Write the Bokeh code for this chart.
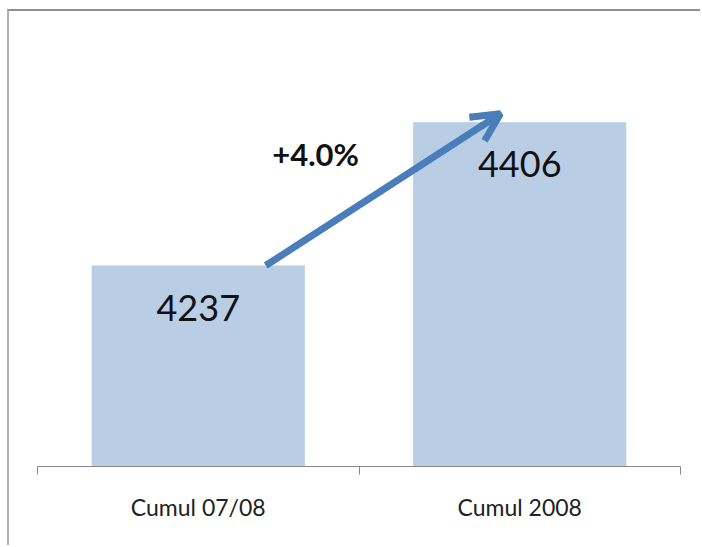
from bokeh.plotting import figure
from bokeh.models import (Range1d, LinearAxis, FixedTicker, Arrow, OpenHead,
                          Label, ColumnDataSource)
from bokeh.core.properties import value
from bokeh.embed import file_html
from bokeh.resources import INLINE

# ---- data ----
categories = ["Cumul 07/08", "Cumul 2008"]
values = [4237, 4406]
value_labels = [str(v) for v in values]
y_min = 4000
y_max = 4500

n = len(categories)
xs = [i + 0.5 for i in range(n)]
growth = (values[1] / values[0] - 1) * 100
growth_label = f"+{growth:.1f}%"

FONT = "Lato"
BAR = "#B9CDE5"
ARROW = "#4A7EBB"

p = figure(width=693, height=536, output_backend="svg", toolbar_location=None,
           x_range=Range1d(0, n), y_range=Range1d(y_min, y_max),
           x_axis_type=None, y_axis_type=None,
           min_border_left=28, min_border_right=22, min_border_top=31,
           min_border_bottom=81)
p.outline_line_color = None
p.grid.visible = False
p.background_fill_color = "white"
p.border_fill_color = "white"
p.styles = {"border-top": "2px solid #8f8f8f", "border-left": "2px solid #b0b0b0",
            "border-right": "none", "border-bottom": "none",
            "outline": "none", "box-shadow": "none",
            "margin-top": "9px", "margin-left": "7px"}

src = ColumnDataSource(dict(x=xs, top=values, label=value_labels))
p.vbar(x="x", top="top", bottom=y_min, width=0.663, source=src,
       fill_color=BAR, line_color=None)

p.text(x="x", y="top", text="label", source=src, text_align="center",
       text_baseline="alphabetic", y_offset=42, text_font=value(FONT),
       text_font_size="36px", text_color="#111111")

ax = LinearAxis(ticker=FixedTicker(ticks=xs, minor_ticks=list(range(n + 1))))
ax.major_label_overrides = {x: c for x, c in zip(xs, categories)}
ax.axis_line_color = "#868686"
ax.major_tick_line_color = None
ax.major_tick_out = 0
ax.major_tick_in = 0
ax.minor_tick_line_color = "#868686"
ax.minor_tick_out = 8
ax.minor_tick_in = 0
ax.major_label_text_font = FONT
ax.major_label_text_font_size = "23px"
ax.major_label_text_color = "#222222"
ax.major_label_standoff = 18
p.add_layout(ax, "below")

p.add_layout(Arrow(end=OpenHead(size=28, line_color=ARROW, line_width=7),
                   x_start=0.71, y_start=values[0], x_end=1.44, y_end=values[1] + 10,
                   line_color=ARROW, line_width=7))

p.add_layout(Label(x=0.865, y=4368, text=growth_label, text_align="center",
                   text_baseline="alphabetic", text_font=FONT,
                   text_font_size="31px", text_font_style="bold",
                   text_color="#111111"))

open("out.html", "w").write(file_html(p, INLINE))
